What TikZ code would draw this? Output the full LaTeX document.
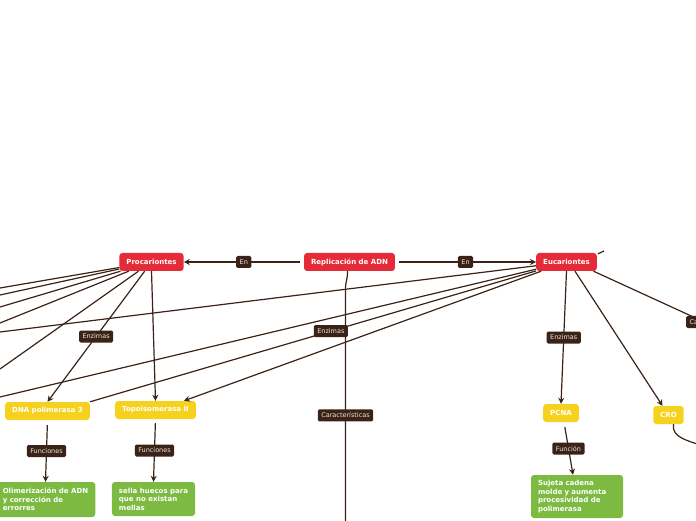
\documentclass[tikz,border=0pt]{standalone}
\usepackage{fontspec}
\setmainfont{DejaVu Sans}
\usetikzlibrary{arrows.meta, positioning, calc}
\definecolor{rootred}{HTML}{E52B38}
\definecolor{subyellow}{HTML}{F6D21F}
\definecolor{leafgreen}{HTML}{7DBA41}
\definecolor{linkbrown}{HTML}{3A2316}
\definecolor{tagtext}{HTML}{EFE6DA}

\begin{document}
\begin{tikzpicture}[
  x=1pt, y=1pt,
  topic/.style={rectangle, rounded corners=3pt, fill=rootred, text=white,
                minimum height=18pt, inner xsep=7pt, inner ysep=0pt,
                font=\fontsize{7}{8.6}\selectfont\bfseries},
  subtopic/.style={topic, fill=subyellow},
  leaf/.style={rectangle, rounded corners=3pt, fill=leafgreen, text=white,
               align=left, inner xsep=7pt, inner ysep=3pt,
               font=\fontsize{7}{8.6}\selectfont\bfseries},
  tag/.style={rectangle, rounded corners=1.5pt, fill=linkbrown, text=tagtext,
              minimum height=12pt, inner xsep=3.5pt, inner ysep=0pt,
              font=\fontsize{6.5}{7}\selectfont},
  link/.style={line width=1.2pt, color=linkbrown},
  arr/.style={link, -{Stealth[length=6pt, width=6pt]}},
]
\useasboundingbox (0,0) rectangle (696,520);

% topics
\node[topic] (adn) at (349.5,258) {Replicación de ADN};
\node[topic] (pro) at (151.5,258) {Procariontes};
\node[topic] (euc) at (566.5,258) {Eucariontes};

% enzymes
\node[subtopic] (dnapol) at (47.5,109)  {DNA polimerasa 3};
\node[subtopic] (topo)   at (155.5,110) {Topoisomerasa II};
\node[subtopic] (pcna)   at (561,107)   {PCNA};
\node[subtopic] (cro)    at (668.5,105) {CRO};

% functions
\node[leaf, minimum height=35pt] (polfun)  at (45.5,20.5)
  {Olimerización de ADN\\y corrección de\\errorres};
\node[leaf, minimum height=34pt] (topofun) at (153.5,21)
  {sella huecos para\\que no existan\\mellas};
\node[leaf, text width=78pt, minimum height=43pt] (pcnafun) at (577,23.5)
  {Sujeta cadena\\molde y aumenta\\procesividad de\\polimerasa};

% loose ends at the border
\coordinate (l1) at (0,232);
\coordinate (l2) at (0,225);
\coordinate (l3) at (0,213);
\coordinate (l4) at (0,197);
\coordinate (l5) at (0,151);
\coordinate (e1) at (0,188);
\coordinate (e2) at (0,123);
\coordinate (bend) at (345.5,230);
\coordinate (bot)  at (345.5,-2);
\coordinate (rt)   at (700,200);
\coordinate (stub) at (604,269);
\coordinate (croend) at (700,75);

\draw[link] ([xshift=-2pt]adn.south) .. controls +(0,-10) and +(0,10) .. (bend)
  -- (bot) node[tag, pos=0.54] {Características};

\draw[arr, shorten <=4pt] (adn) -- (pro) node[tag, midway] {En};
\draw[arr, shorten <=4pt] (adn) -- (euc) node[tag, midway] {En};

\draw[link] (pro) -- (l1);
\draw[link] (pro) -- (l2);
\draw[link] (pro) -- (l3);
\draw[link] (pro) -- (l4);
\draw[link] (pro) -- (l5);
\draw[arr] (pro) -- (dnapol.north) node[tag, pos=0.5] {Enzimas};
\draw[arr] (pro.south) -- (topo.north);

\draw[link] (euc) -- (e1);
\draw[link] (euc) -- (e2);
\draw[link] (euc) -- (dnapol.north east) node[tag, pos=0.46] {Enzimas};
\draw[arr] (euc) -- ([xshift=-12pt]topo.north east);
\draw[arr] (euc.south) -- (pcna.north) node[tag, midway] {Enzimas};
\draw[arr] ([xshift=8.5pt]euc.south) -- ([xshift=-6pt]cro.north);
\draw[link] ([xshift=27pt]euc.south) -- (rt);
\draw[link] ([xshift=1pt, yshift=-1pt]euc.north east) -- (stub);
\node[tag, anchor=west] (catag) at (686,198) {Ca};

\draw[arr, shorten <=5pt] (dnapol.south) -- (polfun.north) node[tag, midway] {Funciones};
\draw[arr, shorten <=4pt] (topo.south) -- (topofun.north) node[tag, midway] {Funciones};
\draw[arr, shorten <=5pt] ([xshift=3pt]pcna.south) -- ([xshift=-4pt]pcnafun.north)
  node[tag, midway] {Función};
\draw[link] ([xshift=5pt]cro.south) to[out=-100, in=160] (croend);
\end{tikzpicture}
\end{document}
